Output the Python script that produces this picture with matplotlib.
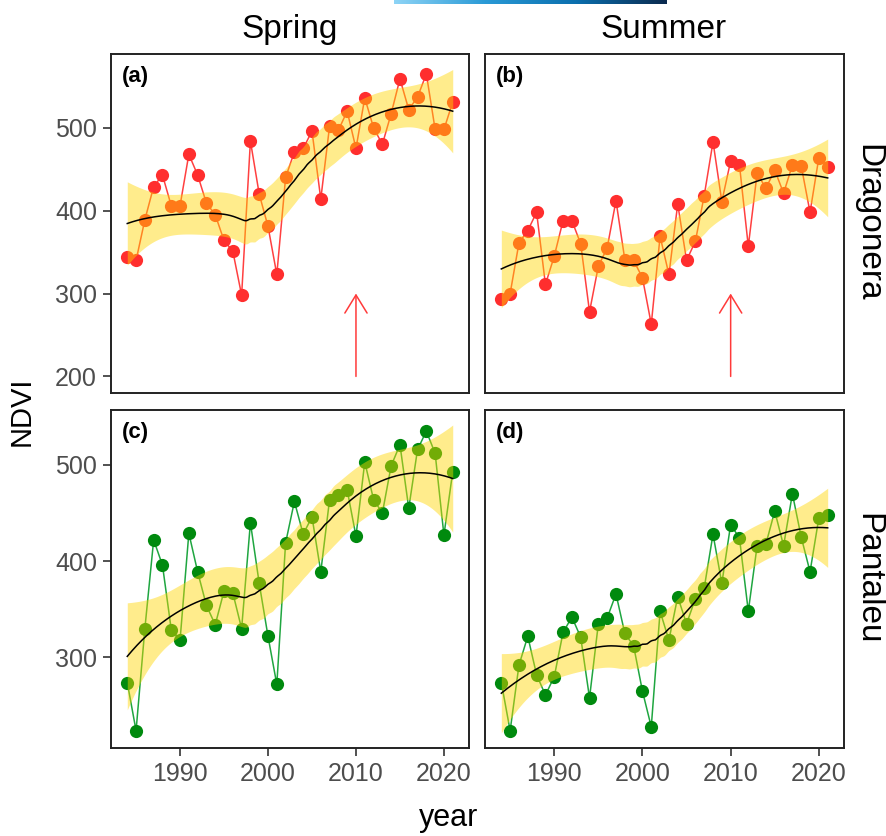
import numpy as np
import matplotlib
matplotlib.use('Agg')
import matplotlib.pyplot as plt
from matplotlib.colors import LinearSegmentedColormap

plt.rcParams['font.family'] = ['Liberation Sans', 'DejaVu Sans']

# Data ===========================================
years = list(range(1984, 2022))

spring_drag = [344, 340, 389, 429, 443, 406, 406, 468, 443, 409,
               395, 364, 351, 298, 484, 420, 381, 323, 440, 471,
               475, 496, 414, 502, 497, 520, 475, 536, 500, 480,
               517, 559, 522, 537, 565, 498, 498, 531]
summer_drag = [293, 300, 361, 376, 398, 311, 345, 388, 388, 360,
               278, 333, 355, 412, 341, 340, 319, 263, 369, 323,
               408, 340, 363, 418, 483, 411, 460, 455, 357, 445,
               427, 449, 421, 455, 454, 398, 464, 453]
spring_pant = [274, 224, 330, 422, 396, 329, 318, 429, 389, 354,
               334, 369, 367, 330, 440, 377, 322, 272, 419, 462,
               428, 446, 389, 464, 469, 474, 426, 503, 464, 450,
               499, 521, 455, 516, 535, 512, 427, 493]
summer_pant = [274, 224, 292, 322, 282, 261, 280, 326, 342, 321,
               258, 335, 341, 366, 325, 312, 265, 228, 348, 318,
               363, 335, 361, 372, 428, 377, 438, 424, 348, 416,
               418, 452, 416, 470, 425, 389, 445, 448]

seasons = ['Spring', 'Summer']
sites = ['Dragonera', 'Pantaleu']
labels = ['(a)', '(b)', '(c)', '(d)']
arrow_year = 2010


# loess smooth (degree 2, span 0.75) with 95% band, like geom_smooth
def loess(x, y, xs, span=0.75):
    x = np.asarray(x, float)
    y = np.asarray(y, float)
    n = len(x)
    q = int(np.floor(n * span))

    def rows(pts):
        out = []
        for x0 in pts:
            d = np.abs(x - x0)
            h = np.sort(d)[q - 1]
            w = np.clip(1 - (d / h) ** 3, 0, None) ** 3
            X = np.column_stack([np.ones(n), x - x0, (x - x0) ** 2])
            A = X.T @ (w[:, None] * X)
            out.append(np.linalg.solve(A, X.T * w)[0])
        return np.array(out)

    L = rows(x)
    R = np.eye(n) - L
    M = R.T @ R
    d1 = np.trace(M)
    d2 = np.trace(M @ M)
    sigma = np.sqrt(np.sum((R @ y) ** 2) / d1)
    df = d1 ** 2 / d2
    z = 1.959964
    t = z + (z ** 3 + z) / (4 * df) + (5 * z ** 5 + 16 * z ** 3 + 3 * z) / (96 * df ** 2)
    Ls = rows(xs)
    fit = Ls @ y
    se = sigma * np.sqrt(np.sum(Ls ** 2, axis=1))
    return fit, fit - t * se, fit + t * se


# General ========================================
W, H = 886, 836
fig = plt.figure(figsize=(W / 100, H / 100), dpi=100)


def fx(px):
    return px / W


def fy(py):
    return 1 - py / H


panels = [
    (spring_drag, (111, 54, 469, 393), 0, 0),
    (summer_drag, (485, 54, 844, 393), 0, 1),
    (spring_pant, (111, 410, 469, 748), 1, 0),
    (summer_pant, (485, 410, 844, 748), 1, 1),
]
point_col = ['#FF2E2E', '#008A0E']
line_col = ['#FF4040', '#1FA640']
ylims = [(180, 589), (206, 557)]

xs = np.linspace(years[0], years[-1], 200)

for i, (vals, (l, t, r, b), row, col) in enumerate(panels):
    ax = fig.add_axes([fx(l), fy(b), fx(r) - fx(l), fy(t) - fy(b)])
    ax.plot(years, vals, color=line_col[row], lw=1.1, zorder=2)
    ax.plot(years, vals, 'o', color=point_col[row], ms=9.5, mew=0, zorder=3)
    fit, lo, hi = loess(years, vals, xs)
    ax.fill_between(xs, lo, hi, color='#FFD700', alpha=0.45, lw=0, zorder=4)
    ax.plot(xs, fit, color='black', lw=1.1, zorder=5)

    if row == 0:
        ax.annotate('', xy=(arrow_year, 300), xytext=(arrow_year, 200),
                    arrowprops=dict(arrowstyle='->,head_length=1.3,head_width=0.8',
                                    color='#FF3A3A', lw=1.1, shrinkA=0, shrinkB=0),
                    zorder=6)

    ax.set_xlim(1982.15, 2022.85)
    ax.set_ylim(*ylims[row])
    ax.set_xticks([1990, 2000, 2010, 2020])
    ax.set_yticks([200, 300, 400, 500] if row == 0 else [300, 400, 500])
    ax.tick_params(colors='#333333', labelcolor='#4D4D4D', labelsize=18,
                   length=6, width=1.2, pad=4)
    if row == 0:
        ax.tick_params(axis='x', bottom=False, labelbottom=False)
    if col == 1:
        ax.tick_params(axis='y', left=False, labelleft=False)
    for side in ['bottom', 'top', 'left', 'right']:
        ax.spines[side].set_color('#222222')
        ax.spines[side].set_linewidth(1.4)
    ax.text(0.03, 0.965, labels[i], transform=ax.transAxes, fontsize=16,
            fontweight='bold', ha='left', va='top')

# strip labels
fig.text(fx(290), fy(38), seasons[0], fontsize=24, ha='center', va='baseline')
fig.text(fx(664), fy(38), seasons[1], fontsize=24, ha='center', va='baseline')
fig.text(fx(868), fy(223), sites[0], fontsize=24, rotation=270, ha='center', va='center')
fig.text(fx(868), fy(579), sites[1], fontsize=24, rotation=270, ha='center', va='center')

# axis titles
fig.text(fx(22), fy(411), 'NDVI', fontsize=21, rotation=90, ha='center', va='center')
fig.text(fx(449), fy(826), 'year', fontsize=22, ha='center', va='baseline')

# cropped gradient bar at the top edge
cax = fig.add_axes([fx(394), fy(4), fx(667) - fx(394), fy(0) - fy(4)])
cmap = LinearSegmentedColormap.from_list('blu', ['#8ED4F6', '#2A9AD6', '#0B6FAE', '#0A2A4E'])
cax.imshow(np.linspace(0, 1, 256)[None, :], aspect='auto', cmap=cmap)
cax.axis('off')

plt.savefig('out.png', dpi=100, facecolor='white')
